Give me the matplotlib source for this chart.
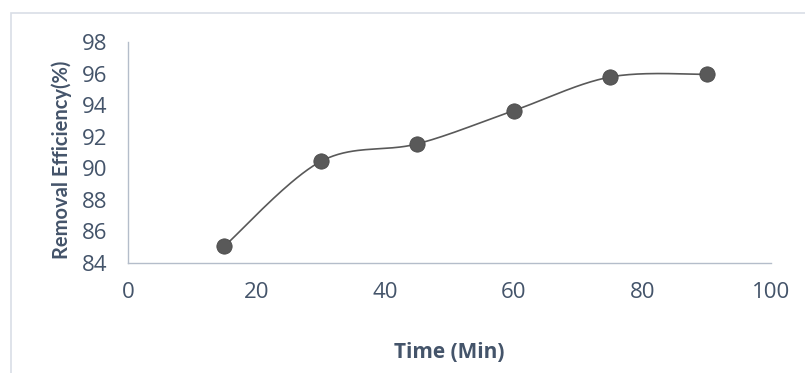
import numpy as np
import matplotlib
matplotlib.use("Agg")
import matplotlib.pyplot as plt
from matplotlib.patches import Rectangle

# Removal efficiency over contact time
time_min = [15, 30, 45, 60, 75, 90]
removal_eff = [85.05, 90.43, 91.54, 93.65, 95.78, 95.95]
x_ticks = [0, 20, 40, 60, 80, 100]
y_ticks = [84, 86, 88, 90, 92, 94, 96, 98]

TEXT = "#44546A"
SPINE = "#B4BDCA"
MARK = "#595959"
FONT = ["Open Sans", "DejaVu Sans"]
LABEL_FONT = ["Lato", "DejaVu Sans"]


def smooth_curve(xs, ys, n=40):
    """Catmull-Rom style Bezier smoothing through every point."""
    xs = np.asarray(xs, float)
    ys = np.asarray(ys, float)
    px = np.concatenate([[xs[0]], xs, [xs[-1]]])
    py = np.concatenate([[ys[0]], ys, [ys[-1]]])
    t = np.linspace(0, 1, n)
    outx, outy = [], []
    for i in range(1, len(px) - 2):
        p0 = np.array([px[i], py[i]])
        p3 = np.array([px[i + 1], py[i + 1]])
        c1 = p0 + (p3 - np.array([px[i - 1], py[i - 1]])) / 6.0
        c2 = p3 - (np.array([px[i + 2], py[i + 2]]) - p0) / 6.0
        b = ((1 - t) ** 3)[:, None] * p0 + (3 * (1 - t) ** 2 * t)[:, None] * c1 \
            + (3 * (1 - t) * t ** 2)[:, None] * c2 + (t ** 3)[:, None] * p3
        outx.extend(b[:, 0])
        outy.extend(b[:, 1])
    return np.array(outx), np.array(outy)


fig = plt.figure(figsize=(8.05, 3.73), dpi=100)
fig.patches.append(Rectangle((11 / 805, -0.1), 1.2, (373 - 13) / 373 + 0.1,
                             transform=fig.transFigure, fill=False,
                             edgecolor="#D9DEE6", linewidth=1.2))

ax = fig.add_axes([128 / 805, (373 - 262.7) / 373, 643 / 805, 220.7 / 373])

sx, sy = smooth_curve(time_min, removal_eff)
ax.plot(sx, sy, color=MARK, linewidth=1.2, zorder=2)
ax.plot(time_min, removal_eff, linestyle="none", marker="o", markersize=11,
        markerfacecolor=MARK, markeredgecolor="#4A4A4A", markeredgewidth=0.6,
        zorder=3)

ax.set_xlim(0, 100)
ax.set_ylim(84, 98)
ax.set_xticks(x_ticks)
ax.set_yticks(y_ticks)
ax.tick_params(length=0, labelsize=16, labelcolor=TEXT)
ax.tick_params(axis="x", pad=14)
ax.tick_params(axis="y", pad=15)
for lab in ax.get_xticklabels() + ax.get_yticklabels():
    lab.set_family(FONT)

for side in ("top", "right"):
    ax.spines[side].set_visible(False)
for side in ("left", "bottom"):
    ax.spines[side].set_color(SPINE)
    ax.spines[side].set_linewidth(1.0)

ax.set_xlabel("Time (Min)", fontsize=15, fontweight="bold", color=TEXT,
              family=FONT)
ax.xaxis.set_label_coords((449 - 128) / 643, -(342 - 262.7) / 220.7)
ax.set_ylabel("Removal Efficiency(%)", fontsize=14.5, fontweight="bold",
              color=TEXT, family=LABEL_FONT)
ax.yaxis.set_label_coords(-(128 - 72) / 643, (262.7 - 160) / 220.7)

fig.savefig("out.png", dpi=100)
